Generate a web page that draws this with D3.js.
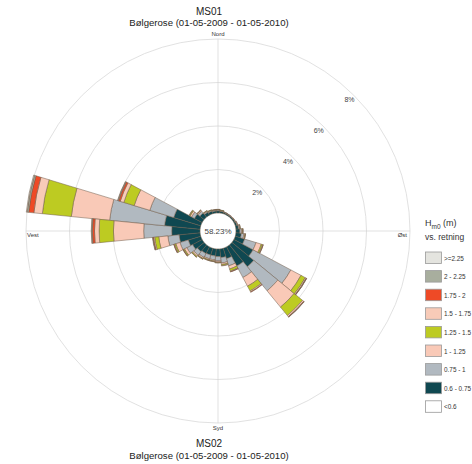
<!DOCTYPE html>
<html>
<head>
<meta charset="utf-8">
<script src="https://cdn.jsdelivr.net/npm/d3@7"></script>
<style>
    body { margin: 0; background: #fff; }
    svg { display: block; font-family: "Liberation Sans", Arial, sans-serif; }
</style>
</head>
<body>
<div id="chartdiv"></div>
<script>
/*global d3 */

////////////////////////////////////////
// data
////////////////////////////////////////

var directions = [0, 11.25, 22.5, 33.75, 45, 56.25, 67.5, 78.75,
                  90, 101.25, 112.5, 123.75, 135, 146.25, 157.5, 168.75,
                  180, 191.25, 202.5, 213.75, 225, 236.25, 247.5, 258.75,
                  270, 281.25, 292.5, 303.75, 315, 326.25, 337.5, 348.75];

var classKeys = ["h060", "h075", "h100", "h125", "h150", "h175", "h200", "h225"];
var classLabels = [">=2.25", "2 - 2.25", "1.75 - 2", "1.5 - 1.75",
                   "1.25 - 1.5", "1 - 1.25", "0.75 - 1", "0.6 - 0.75", "<0.6"];
var classColors = ["#e4e4df", "#a8ae9e", "#ee4a26", "#f8cbb8",
                   "#bdcb22", "#f9c9b7", "#b1b9c0", "#0f4851", "#ffffff"];

//percent of time per direction for each wave height class
var h060 = [0.10, 0.08, 0.06, 0.05, 0.05, 0.06, 0.08, 0.12,
            0.18, 0.25, 0.45, 1.00, 1.30, 1.00, 0.50, 0.40,
            0.35, 0.33, 0.33, 0.35, 0.40, 0.50, 0.60, 0.97,
            1.30, 1.64, 1.30, 0.40, 0.25, 0.15, 0.12, 0.10];
var h075 = [0.04, 0.03, 0.02, 0.02, 0.02, 0.02, 0.03, 0.05,
            0.08, 0.12, 0.55, 1.97, 1.43, 0.60, 0.35, 0.25,
            0.20, 0.18, 0.18, 0.20, 0.22, 0.30, 0.40, 0.52,
            1.29, 2.54, 1.15, 0.15, 0.10, 0.05, 0.04, 0.04];
var h100 = [0.02, 0.02, 0.01, 0.01, 0.01, 0.01, 0.02, 0.03,
            0.04, 0.05, 0.25, 0.53, 0.97, 0.45, 0.15, 0.07,
            0.05, 0.05, 0.05, 0.06, 0.07, 0.12, 0.20, 0.42,
            1.39, 1.77, 0.75, 0.08, 0.05, 0.03, 0.02, 0.02];
var h125 = [0.01, 0.01, 0.00, 0.00, 0.00, 0.00, 0.00, 0.01,
            0.02, 0.02, 0.06, 0.22, 0.50, 0.25, 0.10, 0.05,
            0.03, 0.03, 0.03, 0.03, 0.04, 0.05, 0.06, 0.19,
            0.66, 1.34, 0.50, 0.04, 0.02, 0.01, 0.01, 0.01];
var h150 = [0.00, 0.00, 0.00, 0.00, 0.00, 0.00, 0.00, 0.00,
            0.01, 0.01, 0.03, 0.05, 0.07, 0.05, 0.03, 0.02,
            0.01, 0.01, 0.01, 0.01, 0.01, 0.02, 0.03, 0.05,
            0.21, 0.39, 0.17, 0.02, 0.01, 0.00, 0.00, 0.00];
var h175 = [0.00, 0.00, 0.00, 0.00, 0.00, 0.00, 0.00, 0.00,
            0.00, 0.00, 0.01, 0.02, 0.02, 0.02, 0.01, 0.00,
            0.00, 0.00, 0.00, 0.00, 0.00, 0.01, 0.01, 0.03,
            0.10, 0.24, 0.08, 0.00, 0.00, 0.00, 0.00, 0.00];
var h200 = [0.00, 0.00, 0.00, 0.00, 0.00, 0.00, 0.00, 0.00,
            0.00, 0.00, 0.00, 0.01, 0.01, 0.00, 0.00, 0.00,
            0.00, 0.00, 0.00, 0.00, 0.00, 0.00, 0.00, 0.02,
            0.03, 0.07, 0.03, 0.00, 0.00, 0.00, 0.00, 0.00];
var h225 = [0.00, 0.00, 0.00, 0.00, 0.00, 0.00, 0.00, 0.00,
            0.00, 0.00, 0.00, 0.00, 0.00, 0.00, 0.00, 0.00,
            0.00, 0.00, 0.00, 0.00, 0.00, 0.00, 0.00, 0.00,
            0.02, 0.04, 0.02, 0.00, 0.00, 0.00, 0.00, 0.00];

var calmText = "58.23%";
var ringTicks = [2, 4, 6, 8];
var compassLabels = [{name: "Nord", deg: 0}, {name: "\u00d8st", deg: 90},
                     {name: "Syd", deg: 180}, {name: "Vest", deg: 270}];

(function () {
    "use strict";

    var width = 472, height = 464,
        cx = 218, cy = 231,
        series = [h060, h075, h100, h125, h150, h175, h200, h225],
        sectorWidth = 2 * Math.PI / directions.length,
        rows, stacked, rScale, svg, g, arc, leg, i;

    ////////////////////////////////////////
    // layout
    ////////////////////////////////////////

    rows = directions.map(function (deg, idx) {
        var row = {dir: deg};
        classKeys.forEach(function (k, ki) {
            row[k] = series[ki][idx]; });
        return row; });
    stacked = d3.stack().keys(classKeys)(rows);

    rScale = d3.scaleLinear().domain([0, 8]).range([18, 192]);

    svg = d3.select("#chartdiv").append("svg")
        .attr("width", width).attr("height", height);

    svg.append("text").attr("x", 209).attr("y", 15)
        .attr("text-anchor", "middle").attr("font-size", 10)
        .attr("fill", "#222").text("MS01");
    svg.append("text").attr("x", 209).attr("y", 26)
        .attr("text-anchor", "middle").attr("font-size", 9.6)
        .attr("fill", "#222").text("B\u00f8lgerose (01-05-2009 - 01-05-2010)");
    svg.append("text").attr("x", 209).attr("y", 447)
        .attr("text-anchor", "middle").attr("font-size", 10)
        .attr("fill", "#222").text("MS02");
    svg.append("text").attr("x", 209).attr("y", 459)
        .attr("text-anchor", "middle").attr("font-size", 9.6)
        .attr("fill", "#222").text("B\u00f8lgerose (01-05-2009 - 01-05-2010)");

    g = svg.append("g").attr("transform", "translate(" + cx + "," + cy + ")");

    //grid rings and spokes
    g.selectAll("circle.ring").data(ringTicks).enter().append("circle")
        .attr("class", "ring").attr("r", function (d) { return rScale(d); })
        .attr("fill", "none").attr("stroke", "#d9d9d9").attr("stroke-width", 0.8);
    g.append("line").attr("x1", 0).attr("x2", 0)
        .attr("y1", -rScale(8)).attr("y2", rScale(8))
        .attr("stroke", "#d4d4d4").attr("stroke-width", 0.7);
    g.append("line").attr("y1", 0).attr("y2", 0)
        .attr("x1", -rScale(8)).attr("x2", rScale(8))
        .attr("stroke", "#d4d4d4").attr("stroke-width", 0.7);

    //petals
    arc = d3.arc()
        .innerRadius(function (d) { return rScale(d[0]); })
        .outerRadius(function (d) { return rScale(d[1]); })
        .startAngle(function (d) {
            return d.data.dir * Math.PI / 180 - sectorWidth / 2; })
        .endAngle(function (d) {
            return d.data.dir * Math.PI / 180 + sectorWidth / 2; });

    g.selectAll("g.layer").data(stacked).enter().append("g")
        .attr("class", "layer")
        .attr("fill", function (d, idx) { return classColors[7 - idx]; })
        .selectAll("path").data(function (d) {
            return d.filter(function (s) { return s[1] - s[0] > 0; }); })
        .enter().append("path")
        .attr("d", arc)
        .attr("stroke", "#6e5a48").attr("stroke-width", 0.5);

    //calm centre
    g.append("circle").attr("r", 17).attr("fill", "#fff");
    g.append("text").attr("y", 3).attr("text-anchor", "middle")
        .attr("font-size", 8).attr("fill", "#444").text(calmText);

    //ring labels on the 45 degree line
    g.selectAll("text.rlab").data(ringTicks).enter().append("text")
        .attr("class", "rlab")
        .attr("x", function (d) { return (rScale(d) - 6) * Math.SQRT1_2; })
        .attr("y", function (d) { return -(rScale(d) - 6) * Math.SQRT1_2 + 3; })
        .attr("text-anchor", "middle").attr("font-size", 7)
        .attr("fill", "#444").text(function (d) { return d + "%"; });

    //compass names
    g.append("text").attr("x", 0).attr("y", -rScale(8) - 3)
        .attr("text-anchor", "middle").attr("font-size", 6)
        .attr("fill", "#333").text(compassLabels[0].name);
    g.append("text").attr("x", 0).attr("y", rScale(8) + 7)
        .attr("text-anchor", "middle").attr("font-size", 6)
        .attr("fill", "#333").text(compassLabels[2].name);
    g.append("text").attr("x", -rScale(8) + 1).attr("y", 6)
        .attr("font-size", 6).attr("fill", "#333").text(compassLabels[3].name);
    g.append("text").attr("x", rScale(8) - 3).attr("y", 6)
        .attr("text-anchor", "end").attr("font-size", 6)
        .attr("fill", "#333").text(compassLabels[1].name);

    ////////////////////////////////////////
    // legend
    ////////////////////////////////////////

    leg = svg.append("g").attr("transform", "translate(425,0)");
    leg.append("text").attr("x", 0).attr("y", 226).attr("font-size", 9)
        .attr("fill", "#333")
        .call(function (t) {
            t.append("tspan").text("H");
            t.append("tspan").attr("font-size", 6.5).attr("dy", 2.5).text("m0");
            t.append("tspan").attr("dy", -2.5).text(" (m)"); });
    leg.append("text").attr("x", 0).attr("y", 240).attr("font-size", 8.5)
        .attr("fill", "#333").text("vs. retning");
    for(i = 0; i < classLabels.length; i += 1) {
        leg.append("rect").attr("x", 0.5).attr("y", 252 + i * 18.6)
            .attr("width", 16).attr("height", 11.5)
            .attr("fill", classColors[i])
            .attr("stroke", "#999").attr("stroke-width", 0.8);
        leg.append("text").attr("x", 19).attr("y", 260.5 + i * 18.6)
            .attr("font-size", 6.4).attr("fill", "#333")
            .text(classLabels[i]); }
}());
</script>
</body>
</html>
